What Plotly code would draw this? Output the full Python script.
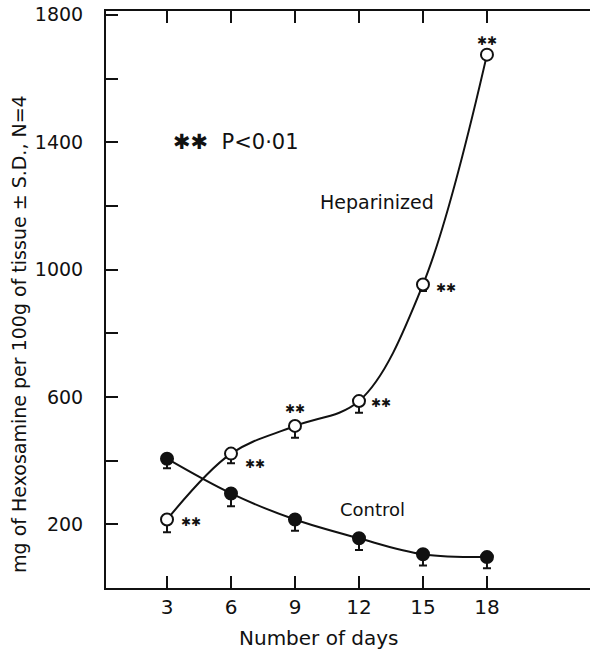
import plotly.graph_objects as go

days = [3, 6, 9, 12, 15, 18]
heparinized = [215, 422, 509, 587, 953, 1675]
heparinized_sd = [40, 30, 37, 37, 20, 12]
control = [406, 297, 215, 156, 106, 97]
control_sd = [30, 40, 35, 37, 35, 35]

y_tickvals = [200, 400, 600, 800, 1000, 1200, 1400, 1600, 1800]
y_ticktext = ["200", "", "600", "", "1000", "", "1400", "", "1800"]
x_ticktext = ["3", "6", "9", "12", "15", "18"]

# significance marks: (dx px, dy px) per heparinized point
sig_offsets = [(24, -2), (24, -10), (0, 17), (22, -2), (23, -3), (0, 14)]

FONT = "DejaVu Sans"
BLACK = "#111111"

fig = go.Figure()

fig.add_trace(go.Scatter(
    x=days, y=heparinized, mode="lines+markers", name="Heparinized",
    line=dict(color=BLACK, width=2, shape="spline", smoothing=1.0),
    marker=dict(symbol="circle", size=12, color="white", line=dict(color=BLACK, width=2)),
    error_y=dict(type="data", symmetric=False, array=[0] * len(days),
                 arrayminus=heparinized_sd, color=BLACK, thickness=2, width=4),
))

fig.add_trace(go.Scatter(
    x=days, y=control, mode="lines+markers", name="Control",
    line=dict(color=BLACK, width=2, shape="spline", smoothing=1.0),
    marker=dict(symbol="circle", size=12, color=BLACK, line=dict(color=BLACK, width=2)),
    error_y=dict(type="data", symmetric=False, array=[0] * len(days),
                 arrayminus=control_sd, color=BLACK, thickness=2, width=4),
))

annotations = []
for d, v, (dx, dy) in zip(days, heparinized, sig_offsets):
    annotations.append(dict(x=d, y=v, xref="x", yref="y", text="✱✱", showarrow=False,
                            xshift=dx, yshift=dy, font=dict(family=FONT, size=12, color=BLACK)))

annotations += [
    dict(x=3.2, y=1400, xref="x", yref="y", text="✱✱  P<0·01", showarrow=False,
         xanchor="left", yanchor="middle", font=dict(family=FONT, size=21, color=BLACK)),
    dict(x=10.08, y=1212, xref="x", yref="y", text="Heparinized", showarrow=False,
         xanchor="left", yanchor="middle", font=dict(family=FONT, size=19, color=BLACK)),
    dict(x=11.02, y=247, xref="x", yref="y", text="Control", showarrow=False,
         xanchor="left", yanchor="middle", font=dict(family=FONT, size=18, color=BLACK)),
    dict(x=0.44, y=-0.086, xref="paper", yref="paper", text="Number of days", showarrow=False,
         xanchor="center", yanchor="middle", font=dict(family=FONT, size=20, color=BLACK)),
    dict(x=-0.181, y=0.441, xref="paper", yref="paper",
         text="mg of Hexosamine per 100g of tissue ± S.D., N=4", showarrow=False,
         textangle=-90, xanchor="center", yanchor="middle",
         font=dict(family=FONT, size=19, color=BLACK)),
]

fig.update_layout(
    width=593, height=651,
    margin=dict(l=106, r=3, t=8, b=63),
    paper_bgcolor="white", plot_bgcolor="white",
    showlegend=False,
    font=dict(family=FONT, size=20, color=BLACK),
    annotations=annotations,
    xaxis=dict(range=[0.14, 22.83], tickvals=days, ticktext=x_ticktext,
               ticks="inside", ticklen=12, tickwidth=2, tickcolor=BLACK,
               showline=True, linecolor=BLACK, linewidth=2, mirror="all",
               showgrid=False, zeroline=False, ticklabelstandoff=0,
               ticklabeloverflow="allow",
               tickfont=dict(family=FONT, size=20, color=BLACK)),
    yaxis=dict(range=[0, 1812], tickvals=y_tickvals, ticktext=y_ticktext,
               ticks="inside", ticklen=12, tickwidth=2, tickcolor=BLACK,
               showline=True, linecolor=BLACK, linewidth=2, mirror=False,
               showgrid=False, zeroline=False, ticklabelstandoff=17,
               ticklabeloverflow="allow",
               tickfont=dict(family=FONT, size=19, color=BLACK)),
)

fig.write_html("out.html", config={"displayModeBar": False},
               post_script="document.body.style.margin='0';document.body.style.overflow='hidden';")
